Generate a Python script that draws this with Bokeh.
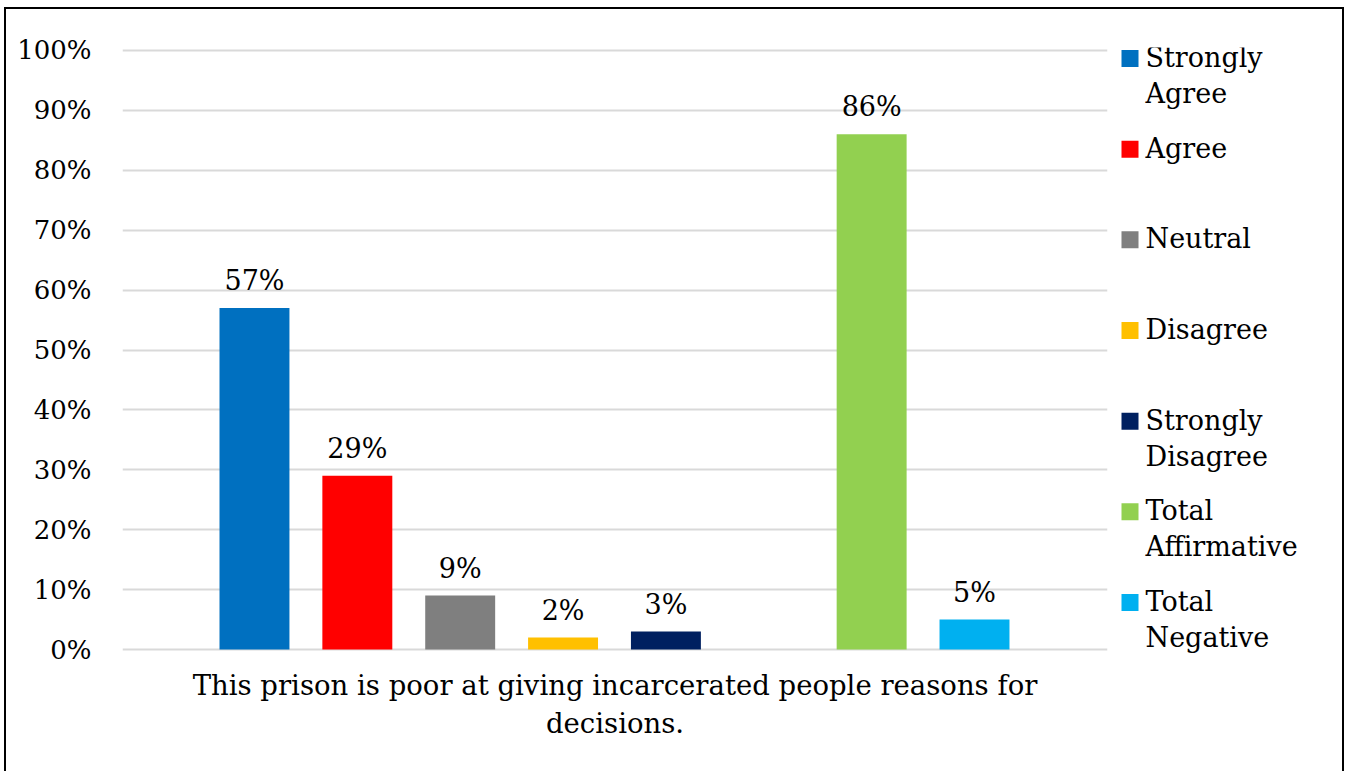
from bokeh.plotting import figure
from bokeh.layouts import row
from bokeh.models import ColumnDataSource, Range1d, LabelSet, PrintfTickFormatter, FixedTicker
from bokeh.core.properties import value
from bokeh.embed import file_html
from bokeh.resources import INLINE

# ---- data ----
series = ["Strongly Agree", "Agree", "Neutral", "Disagree", "Strongly Disagree",
          "Total Affirmative", "Total Negative"]
legend_labels = ["Strongly\nAgree", "Agree", "Neutral", "Disagree", "Strongly\nDisagree",
                 "Total\nAffirmative", "Total\nNegative"]
values = [57, 29, 9, 2, 3, 86, 5]
colors = ["#0070C0", "#FF0000", "#7F7F7F", "#FFC000", "#002060", "#92D050", "#00B0F0"]
question = "This prison is poor at giving incarcerated people reasons for\ndecisions."
y_ticks = [0, 10, 20, 30, 40, 50, 60, 70, 80, 90, 100]

FONT = "DejaVu Serif"
H = 762
TOP, BOT = 38, 110

# slot positions: individual answers, an empty slot, then totals
xs = [i + (1 if s.startswith("Total") else 0) for i, s in enumerate(series)]

p = figure(width=1110, height=H, output_backend="svg", toolbar_location=None,
           x_range=Range1d(-1.283, 8.293), y_range=Range1d(-2.0, 100.5),
           min_border_left=116, min_border_right=9, min_border_top=TOP, min_border_bottom=BOT)
p.outline_line_color = None

src = ColumnDataSource(dict(x=xs, top=values, color=colors,
                            t=[f"{v}%" for v in values]))
p.vbar(x="x", top="top", width=0.68, bottom=0, source=src,
       fill_color="color", line_color=None)

p.add_layout(LabelSet(x="x", y="top", text="t", source=src, text_align="center",
                      text_baseline="alphabetic", y_offset=18, text_font=value(FONT),
                      text_font_size="27px", text_color="#000000"))

p.yaxis.ticker = FixedTicker(ticks=y_ticks)
p.yaxis.formatter = PrintfTickFormatter(format="%d%%")
p.yaxis.axis_line_color = None
p.yaxis.major_tick_line_color = None
p.yaxis.minor_tick_line_color = None
p.yaxis.major_tick_out = 0
p.yaxis.major_label_standoff = 31
p.yaxis.major_label_text_font = FONT
p.yaxis.major_label_text_font_size = "26px"
p.yaxis.major_label_text_color = "#000000"

p.xaxis.ticker = FixedTicker(ticks=[])
p.xaxis.axis_line_color = None
p.xaxis.major_tick_line_color = None
p.xaxis.minor_tick_line_color = None
p.xaxis.major_tick_out = 0
p.xaxis.major_label_standoff = 0
p.xaxis.axis_label = question
p.xaxis.axis_label_standoff = 7
p.xaxis.axis_label_text_font = FONT
p.xaxis.axis_label_text_font_size = "27.5px"
p.xaxis.axis_label_text_font_style = "normal"
p.xaxis.axis_label_text_color = "#000000"

p.xgrid.grid_line_color = None
p.ygrid.grid_line_color = "#D9D9D9"
p.ygrid.grid_line_width = 2

# ---- legend panel (drawn manually so the swatch sits at the first text line) ----
LW = 226
lg = figure(width=LW, height=H, output_backend="svg", toolbar_location=None,
            x_range=Range1d(0, LW), y_range=Range1d(H - BOT, TOP),
            min_border_left=0, min_border_right=0, min_border_top=TOP, min_border_bottom=BOT)
lg.axis.visible = False
lg.grid.grid_line_color = None
lg.outline_line_color = None

pitch = 90.67
first = 49
sq_y = [first + pitch * i for i in range(len(series))]
lg.rect(x=[13.5] * len(series), y=sq_y, width=17, height=17,
        width_units="screen", height_units="screen",
        fill_color=colors, line_color=None)

tx, ty, tt = [], [], []
for i, lab in enumerate(legend_labels):
    for j, line in enumerate(lab.split("\n")):
        tx.append(29)
        ty.append(sq_y[i] - 1 + 36 * j)
        tt.append(line)
lg.text(x=tx, y=ty, text=tt, text_baseline="alphabetic", text_align="left",
        text_font=value(FONT), text_font_size="27px", text_color="#000000")

layout = row(p, lg, styles={"border-top": "2px solid black", "border-left": "2px solid black",
                            "border-right": "2px solid black", "margin-left": "4px",
                            "margin-top": "7px"})

open("out.html", "w").write(file_html(layout, INLINE))
